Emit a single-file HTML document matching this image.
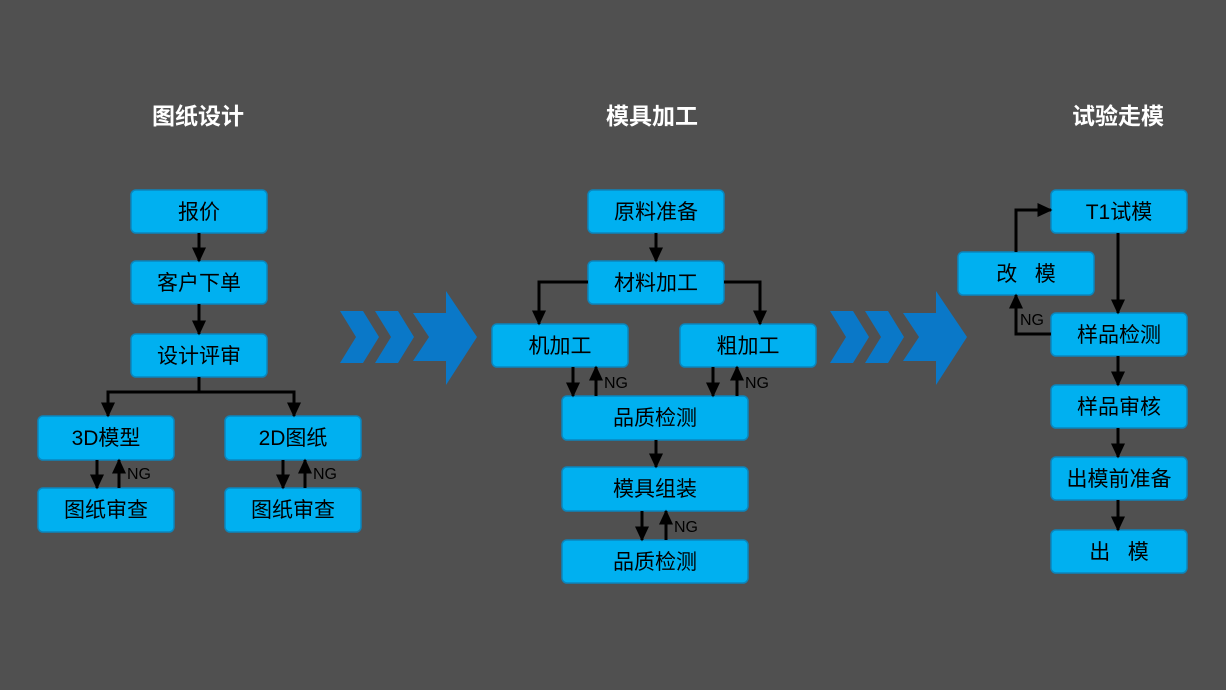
<!DOCTYPE html>
<html><head><meta charset="utf-8"><style>
html,body{margin:0;padding:0;background:#505050;}
svg{display:block}
text{font-family:"Liberation Sans","Noto Sans CJK SC",sans-serif;}
.t{fill:#fff;font-size:23px;font-weight:bold;text-anchor:middle}
.b{fill:#00b0f0;stroke:#0b86bd;stroke-width:1.5}
.l{fill:#000;font-size:21px;text-anchor:middle}
.ng{fill:#000;font-size:16px}
.c{stroke:#000;stroke-width:3;fill:none}
.ch{fill:#0a78c8}
</style></head><body>
<svg width="1226" height="690" viewBox="0 0 1226 690">
<defs>
<marker id="m" viewBox="0 0 10 10" refX="9" refY="5" markerWidth="15" markerHeight="14" orient="auto" markerUnits="userSpaceOnUse" preserveAspectRatio="none"><path d="M0,0L10,5L0,10z" fill="#000"/></marker></defs>
<text class="t" x="198" y="124">图纸设计</text>
<text class="t" x="652" y="124">模具加工</text>
<text class="t" x="1118" y="124">试验走模</text>

<g class="ch">
<path d="M340,311H363L379,337L363,363H340L356,337Z"/>
<path d="M375,311H398L414,337L398,363H375L391,337Z"/>
<path d="M413,313H446V291L477,337L446,385V361H413L429,337Z"/>
<path d="M830,311H853L869,337L853,363H830L846,337Z"/>
<path d="M865,311H888L904,337L888,363H865L881,337Z"/>
<path d="M903,313H936V291L967,337L936,385V361H903L919,337Z"/>
</g>

<g>
<rect class="b" x="131" y="190" width="136" height="43" rx="5"/>
<rect class="b" x="131" y="261" width="136" height="43" rx="5"/>
<rect class="b" x="131" y="334" width="136" height="43" rx="5"/>
<rect class="b" x="38" y="416" width="136" height="44" rx="5"/>
<rect class="b" x="225" y="416" width="136" height="44" rx="5"/>
<rect class="b" x="38" y="488" width="136" height="44" rx="5"/>
<rect class="b" x="225" y="488" width="136" height="44" rx="5"/>

<rect class="b" x="588" y="190" width="136" height="43" rx="5"/>
<rect class="b" x="588" y="261" width="136" height="43" rx="5"/>
<rect class="b" x="492" y="324" width="136" height="43" rx="5"/>
<rect class="b" x="680" y="324" width="136" height="43" rx="5"/>
<rect class="b" x="562" y="396" width="186" height="44" rx="5"/>
<rect class="b" x="562" y="467" width="186" height="44" rx="5"/>
<rect class="b" x="562" y="540" width="186" height="43" rx="5"/>

<rect class="b" x="1051" y="190" width="136" height="43" rx="5"/>
<rect class="b" x="958" y="252" width="136" height="43" rx="5"/>
<rect class="b" x="1051" y="313" width="136" height="43" rx="5"/>
<rect class="b" x="1051" y="385" width="136" height="43" rx="5"/>
<rect class="b" x="1051" y="457" width="136" height="43" rx="5"/>
<rect class="b" x="1051" y="530" width="136" height="43" rx="5"/>
</g>

<g>
<text class="l" x="199" y="219">报价</text>
<text class="l" x="199" y="290">客户下单</text>
<text class="l" x="199" y="363">设计评审</text>
<text class="l" x="106" y="445">3D模型</text>
<text class="l" x="293" y="445">2D图纸</text>
<text class="l" x="106" y="517">图纸审查</text>
<text class="l" x="293" y="517">图纸审查</text>
<text class="l" x="656" y="219">原料准备</text>
<text class="l" x="656" y="290">材料加工</text>
<text class="l" x="560" y="353">机加工</text>
<text class="l" x="748" y="353">粗加工</text>
<text class="l" x="655" y="425">品质检测</text>
<text class="l" x="655" y="496">模具组装</text>
<text class="l" x="655" y="569">品质检测</text>
<text class="l" x="1119" y="219">T1试模</text>
<text class="l" x="1026" y="281" xml:space="preserve">改   模</text>
<text class="l" x="1119" y="342">样品检测</text>
<text class="l" x="1119" y="414">样品审核</text>
<text class="l" x="1119" y="486">出模前准备</text>
<text class="l" x="1119" y="559" xml:space="preserve">出   模</text>
</g>

<g class="c" marker-end="url(#m)">
<path d="M199,233V261"/><path d="M199,304V334"/>
<path d="M199,377V392H108V416"/><path d="M199,392H294V416"/>
<path d="M97,460V488"/><path d="M119,488V460"/>
<path d="M283,460V488"/><path d="M305,488V460"/>
<path d="M656,233V261"/>
<path d="M588,282H539V324"/><path d="M724,282H760V324"/>
<path d="M573,367V396"/><path d="M596,396V367"/>
<path d="M713,367V396"/><path d="M737,396V367"/>
<path d="M656,440V467"/>
<path d="M642,511V540"/><path d="M666,540V511"/>
<path d="M1118,233V313"/>
<path d="M1051,334H1016V295"/>
<path d="M1016,252V210H1051"/>
<path d="M1118,356V385"/><path d="M1118,428V457"/><path d="M1118,500V530"/>
</g>
<g class="ng">
<text x="127" y="479">NG</text><text x="313" y="479">NG</text>
<text x="604" y="388">NG</text><text x="745" y="388">NG</text>
<text x="674" y="532">NG</text><text x="1020" y="325">NG</text>
</g>
</svg>
</body></html>
